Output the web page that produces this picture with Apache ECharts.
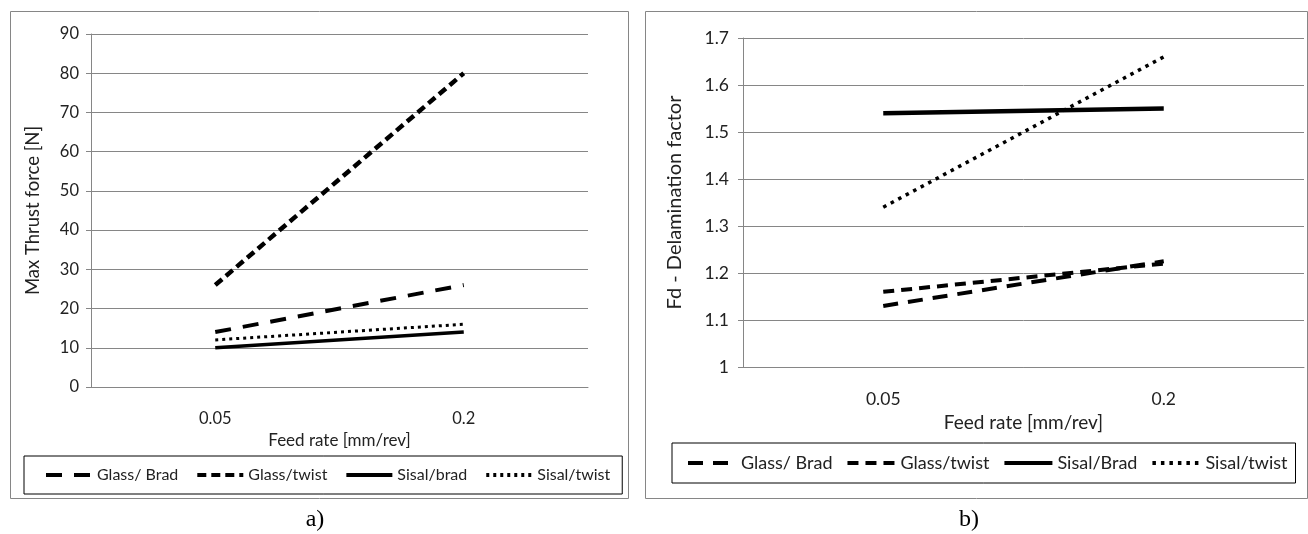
<!DOCTYPE html>
<html>
<head>
<meta charset="utf-8">
<script src="https://cdn.jsdelivr.net/npm/echarts@6/dist/echarts.min.js"></script>
<style>
  html, body { margin: 0; padding: 0; background: #fff; }
  #chartA { position: absolute; left: 0; top: 0; width: 640px; height: 534px; }
  #chartB { position: absolute; left: 640px; top: 0; width: 668px; height: 534px; }
</style>
</head>
<body>
<div id="chartA"></div>
<div id="chartB"></div>
<script>
var categories = ['0.05', '0.2']

// a) max thrust force [N]
var thrustGlassBrad = [14, 26]
var thrustGlassTwist = [26, 80]
var thrustSisalBrad = [10, 14]
var thrustSisalTwist = [12, 16]

// b) delamination factor
var delamGlassBrad = [1.13, 1.225]
var delamGlassTwist = [1.16, 1.22]
var delamSisalBrad = [1.54, 1.55]
var delamSisalTwist = [1.34, 1.66]

var grey = '#868686'
var ink = '#222222'
var font = 'Lato'

function lineSeries (name, data, width, dash) {
  return {
    name: name,
    type: 'line',
    data: data,
    symbol: 'none',
    showSymbol: false,
    silent: true,
    itemStyle: { color: '#000' },
    lineStyle: { color: '#000', width: width, type: dash || 'solid' }
  }
}

function buildOption (cfg) {
  return {
    animation: false,
    textStyle: { fontFamily: font, color: ink },
    grid: cfg.grid,
    xAxis: {
      type: 'category',
      data: categories,
      boundaryGap: true,
      name: 'Feed rate [mm/rev]',
      nameLocation: 'middle',
      nameGap: cfg.xNameGap,
      nameTextStyle: { fontSize: cfg.xNameSize, color: ink, fontFamily: font },
      axisLine: { show: true, lineStyle: { color: grey, width: 1 } },
      axisTick: { show: false },
      axisLabel: { fontSize: cfg.tickSize, color: ink, margin: cfg.xLabelMargin, fontFamily: font },
      splitLine: { show: false }
    },
    yAxis: {
      type: 'value',
      min: cfg.yMin,
      max: cfg.yMax,
      interval: cfg.yInterval,
      name: cfg.yName,
      nameLocation: 'middle',
      nameGap: cfg.yNameGap,
      nameTextStyle: { fontSize: cfg.yNameSize, color: ink, fontFamily: font },
      axisLine: { show: true, lineStyle: { color: grey, width: 1 } },
      axisTick: { show: true, length: 5, lineStyle: { color: grey } },
      axisLabel: { fontSize: cfg.tickSize, color: ink, margin: cfg.yLabelMargin, fontFamily: font },
      splitLine: { show: true, lineStyle: { color: grey, width: 1 } }
    },
    legend: {
      left: cfg.legend.left,
      top: cfg.legend.top,
      orient: 'horizontal',
      selectedMode: false,
      borderColor: '#000',
      borderWidth: 1,
      padding: cfg.legend.padding,
      itemWidth: cfg.legend.itemWidth,
      itemHeight: cfg.legend.itemHeight,
      itemGap: cfg.legend.itemGap,
      itemStyle: { opacity: 0 },
      lineStyle: { width: cfg.legend.lineWidth },
      textStyle: { fontSize: cfg.legend.fontSize, color: ink, fontFamily: font },
      data: cfg.series.map(function (s) { return s.name })
    },
    graphic: [
      {
        type: 'rect',
        silent: true,
        shape: cfg.frame,
        style: { fill: 'none', stroke: grey, lineWidth: 1 }
      },
      {
        type: 'text',
        silent: true,
        x: cfg.caption.x,
        y: cfg.caption.y,
        style: {
          text: cfg.caption.text,
          fontFamily: 'Liberation Serif',
          fontSize: 24,
          fill: '#000',
          align: 'center',
          verticalAlign: 'middle'
        }
      }
    ],
    series: cfg.series
  }
}

var chartA = echarts.init(document.getElementById('chartA'))
chartA.setOption(buildOption({
  grid: { left: 91, right: 52, top: 34, bottom: 147, containLabel: false },
  yMin: 0,
  yMax: 90,
  yInterval: 10,
  yName: 'Max Thrust force [N]',
  yNameGap: 48,
  yNameSize: 18.5,
  xNameGap: 45,
  xNameSize: 17,
  tickSize: 16.5,
  xLabelMargin: 23,
  yLabelMargin: 12,
  frame: { x: 10.5, y: 11.5, width: 618, height: 487 },
  caption: { text: 'a)', x: 315, y: 520 },
  legend: { left: 24, top: 456, padding: [11, 12, 11, 20], itemWidth: 46, itemHeight: 16, itemGap: 17, fontSize: 16, lineWidth: 4 },
  series: [
    lineSeries('Glass/ Brad', thrustGlassBrad, 4, [16, 12]),
    lineSeries('Glass/twist', thrustGlassTwist, 4.5, [9, 5]),
    lineSeries('Sisal/brad', thrustSisalBrad, 3.5),
    lineSeries('Sisal/twist', thrustSisalTwist, 3, [3, 4])
  ]
}))

var chartB = echarts.init(document.getElementById('chartB'))
chartB.setOption(buildOption({
  grid: { left: 103, right: 4, top: 38, bottom: 167, containLabel: false },
  yMin: 1,
  yMax: 1.7,
  yInterval: 0.1,
  yName: 'Fd - Delamination factor',
  yNameGap: 58,
  yNameSize: 20,
  xNameGap: 45,
  xNameSize: 19,
  tickSize: 17.5,
  xLabelMargin: 23,
  yLabelMargin: 14,
  frame: { x: 5.5, y: 11.5, width: 662, height: 487 },
  caption: { text: 'b)', x: 329, y: 520 },
  legend: { left: 32, top: 443, padding: [11, 8, 11, 14], itemWidth: 48, itemHeight: 18, itemGap: 13, fontSize: 18, lineWidth: 4 },
  series: [
    lineSeries('Glass/ Brad', delamGlassBrad, 4, [15, 10]),
    lineSeries('Glass/twist', delamGlassTwist, 4, [11, 7]),
    lineSeries('Sisal/Brad', delamSisalBrad, 4.5),
    lineSeries('Sisal/twist', delamSisalTwist, 3.5, [3.5, 5])
  ]
}))
</script>
</body>
</html>
